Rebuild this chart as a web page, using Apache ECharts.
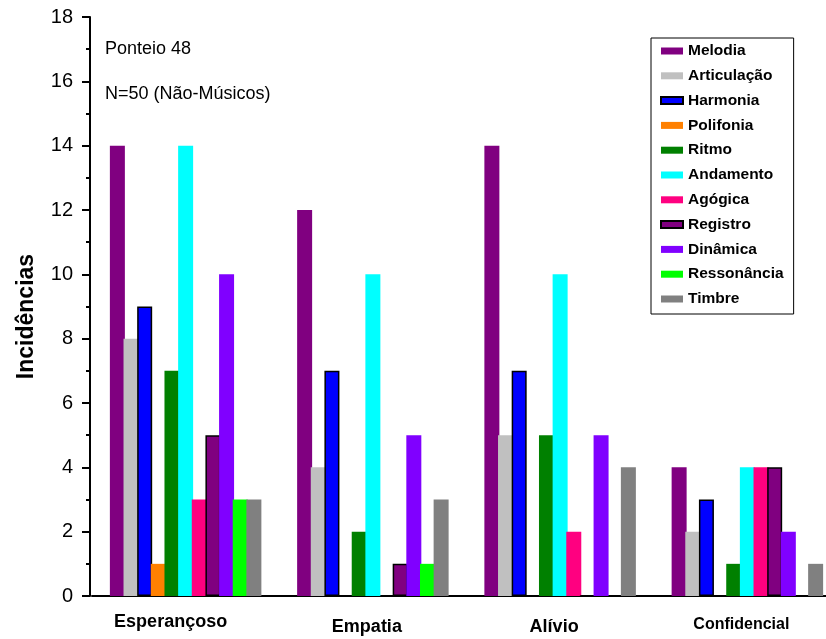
<!DOCTYPE html>
<html><head><meta charset="utf-8">
<script src="https://cdn.jsdelivr.net/npm/echarts@6/dist/echarts.min.js"></script>
<style>html,body{margin:0;padding:0;background:#fff;overflow:hidden}#c{width:841px;height:639px}</style>
</head><body><div id="c"></div>
<script>
var categories = ['Esperançoso', 'Empatia', 'Alívio', 'Confidencial'];
var seriesNames = ['Melodia','Articulação','Harmonia','Polifonia','Ritmo','Andamento','Agógica','Registro','Dinâmica','Ressonância','Timbre'];
var melodia     = [14, 12, 14, 4];
var articulacao = [8, 4, 5, 2];
var harmonia    = [9, 7, 7, 3];
var polifonia   = [1, 0, 0, 0];
var ritmo       = [7, 2, 5, 1];
var andamento   = [14, 10, 10, 4];
var agogica     = [3, 0, 2, 4];
var registro    = [5, 1, 0, 4];
var dinamica    = [10, 5, 5, 2];
var ressonancia = [3, 1, 0, 0];
var timbre      = [3, 3, 4, 1];
var yTicks = [0, 2, 4, 6, 8, 10, 12, 14, 16, 18];

var values = [melodia, articulacao, harmonia, polifonia, ritmo, andamento, agogica, registro, dinamica, ressonancia, timbre];
var colors = ['#800080','#C0C0C0','#0000FF','#FF8000','#008000','#00FFFF','#FF0080','#800080','#8000FF','#00FF00','#808080'];
var bordered = {'Harmonia': true, 'Registro': true};
var FONT = '"Liberation Sans", Arial, sans-serif';

var series = seriesNames.map(function (n, i) {
  return {
    name: n, type: 'bar', xAxisIndex: 0,
    data: values[i],
    barWidth: 15, barGap: '-9%',
    itemStyle: {
      color: colors[i],
      borderColor: bordered[n] ? '#000' : colors[i],
      borderWidth: bordered[n] ? 1.5 : 0
    }
  };
});

// per-label styling (size / nudges) to mimic the original's label placement
var labelRich = {
  c0: {fontFamily: FONT, fontSize: 18, fontWeight: 'bold', color: '#000', padding: [3, 30, 0, 0]},
  c1: {fontFamily: FONT, fontSize: 18, fontWeight: 'bold', color: '#000', padding: [8, 12, 0, 0]},
  c2: {fontFamily: FONT, fontSize: 18, fontWeight: 'bold', color: '#000', padding: [8, 12, 0, 0]},
  c3: {fontFamily: FONT, fontSize: 16, fontWeight: 'bold', color: '#000', padding: [7, 12, 0, 0]}
};

var chart = echarts.init(document.getElementById('c'), null, {renderer: 'canvas'});
chart.setOption({
  backgroundColor: '#fff',
  animation: false,
  grid: {left: 92, right: 0, top: 17, bottom: 43, containLabel: false},
  legend: {
    orient: 'vertical', left: 651, top: 38,
    data: seriesNames,
    icon: 'rect', itemWidth: 22, itemHeight: 7, itemGap: 8.8,
    borderColor: '#000', borderWidth: 1, padding: [5, 10, 7, 9],
    textStyle: {fontFamily: FONT, fontSize: 15.5, fontWeight: 'bold', color: '#000', lineHeight: 16}
  },
  xAxis: [{
    type: 'category', data: categories, position: 'bottom',
    axisLine: {lineStyle: {color: '#000', width: 2}},
    axisTick: {alignWithLabel: true, length: 12, lineStyle: {color: '#000', width: 2}},
    axisLabel: {
      margin: 14, verticalAlign: 'top',
      formatter: function (v, i) { return '{c' + i + '|' + v + '}'; },
      rich: labelRich
    }
  }, {
    type: 'category', data: categories, position: 'bottom',
    axisLine: {show: false},
    axisTick: {length: 6, lineStyle: {color: '#000', width: 2}},
    axisLabel: {show: false}
  }],
  yAxis: {
    type: 'value', min: yTicks[0], max: yTicks[yTicks.length - 1], interval: 2, offset: 2,
    name: 'Incidências', nameLocation: 'middle', nameGap: 52,
    nameTextStyle: {fontFamily: FONT, fontSize: 23, fontWeight: 'bold', color: '#000', padding: [0, 20, 0, 0]},
    axisLine: {show: true, lineStyle: {color: '#000', width: 2}},
    axisTick: {show: true, length: 8, lineStyle: {color: '#000', width: 2}},
    minorTick: {show: true, splitNumber: 2, length: 4, lineStyle: {color: '#000', width: 2}},
    splitLine: {show: false},
    axisLabel: {fontFamily: FONT, fontSize: 20, color: '#000', margin: 17}
  },
  graphic: [
    {type: 'text', left: 105, top: 40, style: {text: 'Ponteio 48', font: '18px ' + FONT, fill: '#000'}},
    {type: 'text', left: 105, top: 85, style: {text: 'N=50 (Não-Músicos)', font: '18px ' + FONT, fill: '#000'}}
  ],
  series: series
});
</script>
</body></html>
